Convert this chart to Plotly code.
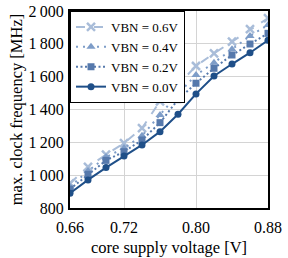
import plotly.graph_objects as go

voltage = [0.66, 0.68, 0.70, 0.72, 0.74, 0.76, 0.78, 0.80, 0.82, 0.84, 0.86, 0.88]
vbn_06 = [950, 1050, 1125, 1195, 1286, 1450, 1549, 1665, 1742, 1813, 1889, 1956]
vbn_04 = [930, 1025, 1110, 1165, 1240, 1367, 1495, 1610, 1685, 1767, 1848, 1915]
vbn_02 = [915, 1005, 1090, 1143, 1214, 1320, 1460, 1560, 1651, 1732, 1799, 1864]
vbn_00 = [890, 971, 1046, 1117, 1184, 1265, 1371, 1495, 1604, 1677, 1746, 1822]

x_ticks = [0.66, 0.72, 0.80, 0.88]
x_tick_labels = ["0.66", "0.72", "0.80", "0.88"]
y_ticks = [800, 1000, 1200, 1400, 1600, 1800, 2000]
y_tick_labels = ["800", "1\u2009000", "1\u2009200", "1\u2009400", "1\u2009600", "1\u2009800", "2\u2009000"]

series = [
    ("VBN = 0.6V", vbn_06, "#a9bdd9", "dash", "x-thin-open", 8),
    ("VBN = 0.4V", vbn_04, "#7e9dc8", "2px,5px", "triangle-up", 8),
    ("VBN = 0.2V", vbn_02, "#5679ac", "2px,2.5px", "square", 7),
    ("VBN = 0.0V", vbn_00, "#1f4f88", "solid", "circle", 7),
]

FONT = "Liberation Serif"

fig = go.Figure()
for name, vals, color, dash, symbol, size in series:
    marker = dict(symbol=symbol, size=size, color=color)
    if symbol == "x-thin-open":
        marker["line"] = dict(width=2.5, color=color)
    fig.add_trace(go.Scatter(
        x=voltage, y=vals, name=name, mode="lines+markers",
        line=dict(color=color, width=2, dash=dash),
        marker=marker,
    ))

fig.update_layout(
    width=288, height=258,
    margin=dict(l=70, r=20, t=11, b=50, autoexpand=False),
    paper_bgcolor="white", plot_bgcolor="white",
    font=dict(family=FONT, size=16, color="black"),
    showlegend=True,
    legend=dict(
        x=0, y=1, xanchor="left", yanchor="top",
        bgcolor="white", bordercolor="black", borderwidth=1,
        font=dict(family=FONT, size=13),
        tracegroupgap=0, itemwidth=30,
    ),
    xaxis=dict(
        range=[0.66, 0.88], tickvals=x_ticks, ticktext=x_tick_labels,
        showgrid=True, gridcolor="#d4d4d4", gridwidth=1,
        showline=True, linecolor="black", linewidth=2, mirror=True,
        ticks="outside", ticklen=4, tickcolor="rgba(0,0,0,0)",
        tickfont=dict(family=FONT, size=16),
        zeroline=False, automargin=False,
        title=dict(text="core supply voltage [V]", font=dict(family=FONT, size=16.5), standoff=6),
    ),
    yaxis=dict(
        range=[800, 2000], tickvals=y_ticks, ticktext=y_tick_labels,
        showgrid=True, gridcolor="#d4d4d4", gridwidth=1,
        showline=True, linecolor="black", linewidth=2, mirror=True,
        ticks="outside", ticklen=1, tickcolor="rgba(0,0,0,0)",
        tickfont=dict(family=FONT, size=16),
        zeroline=False, automargin=False,
        title=dict(text="max. clock frequency [MHz]", font=dict(family=FONT, size=16.5), standoff=2),
    ),
)

fig.write_html("out.html", config={"displayModeBar": False},
               post_script="document.body.style.margin='0';")
